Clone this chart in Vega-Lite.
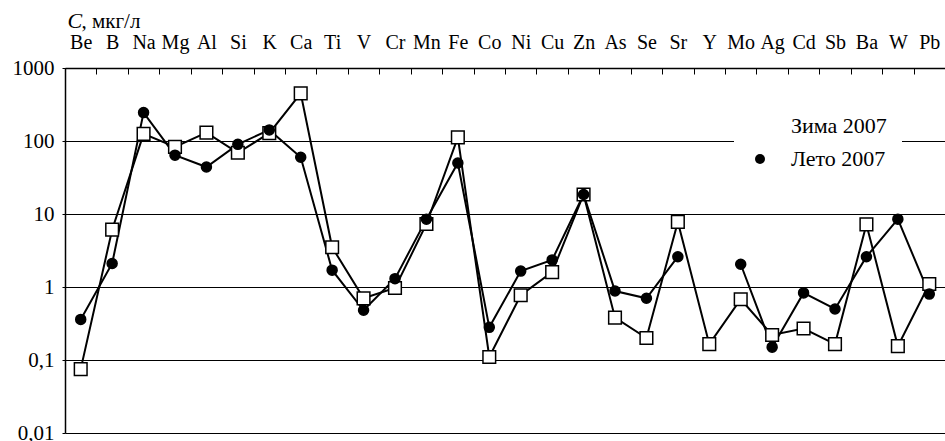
{
  "$schema": "https://vega.github.io/schema/vega-lite/v6.json",
  "width": 880,
  "height": 365,
  "autosize": {"type": "none"},
  "padding": {"left": 65, "top": 68, "right": 0, "bottom": 8},
  "background": "white",
  "config": {
    "view": {"stroke": null},
    "font": "Liberation Serif",
    "legend": {
      "orient": "none",
      "legendX": 669,
      "legendY": 32,
      "fillColor": "white",
      "padding": 15,
      "labelFont": "Liberation Serif",
      "labelFontSize": 22,
      "labelColor": "black",
      "labelOffset": 20,
      "rowPadding": 11,
      "symbolSize": 400,
      "symbolStrokeWidth": 0
    }
  },
  "data": {
    "values": [
      {"el": "Be", "s": "Зима 2007", "v": 0.075},
      {"el": "B", "s": "Зима 2007", "v": 6.1},
      {"el": "Na", "s": "Зима 2007", "v": 125},
      {"el": "Mg", "s": "Зима 2007", "v": 83},
      {"el": "Al", "s": "Зима 2007", "v": 130},
      {"el": "Si", "s": "Зима 2007", "v": 69},
      {"el": "K", "s": "Зима 2007", "v": 128},
      {"el": "Ca", "s": "Зима 2007", "v": 450},
      {"el": "Ti", "s": "Зима 2007", "v": 3.5},
      {"el": "V", "s": "Зима 2007", "v": 0.7},
      {"el": "Cr", "s": "Зима 2007", "v": 0.97},
      {"el": "Mn", "s": "Зима 2007", "v": 7.3},
      {"el": "Fe", "s": "Зима 2007", "v": 112},
      {"el": "Co", "s": "Зима 2007", "v": 0.11},
      {"el": "Ni", "s": "Зима 2007", "v": 0.77},
      {"el": "Cu", "s": "Зима 2007", "v": 1.6},
      {"el": "Zn", "s": "Зима 2007", "v": 18.5},
      {"el": "As", "s": "Зима 2007", "v": 0.38},
      {"el": "Se", "s": "Зима 2007", "v": 0.2},
      {"el": "Sr", "s": "Зима 2007", "v": 7.8},
      {"el": "Y", "s": "Зима 2007", "v": 0.165},
      {"el": "Mo", "s": "Зима 2007", "v": 0.68},
      {"el": "Ag", "s": "Зима 2007", "v": 0.22},
      {"el": "Cd", "s": "Зима 2007", "v": 0.27},
      {"el": "Sb", "s": "Зима 2007", "v": 0.165},
      {"el": "Ba", "s": "Зима 2007", "v": 7.2},
      {"el": "W", "s": "Зима 2007", "v": 0.155},
      {"el": "Pb", "s": "Зима 2007", "v": 1.1},
      {"el": "Be", "s": "Лето 2007", "v": 0.36},
      {"el": "B", "s": "Лето 2007", "v": 2.1},
      {"el": "Na", "s": "Лето 2007", "v": 245},
      {"el": "Mg", "s": "Лето 2007", "v": 64},
      {"el": "Al", "s": "Лето 2007", "v": 44},
      {"el": "Si", "s": "Лето 2007", "v": 90},
      {"el": "K", "s": "Лето 2007", "v": 142},
      {"el": "Ca", "s": "Лето 2007", "v": 60},
      {"el": "Ti", "s": "Лето 2007", "v": 1.7},
      {"el": "V", "s": "Лето 2007", "v": 0.48},
      {"el": "Cr", "s": "Лето 2007", "v": 1.3},
      {"el": "Mn", "s": "Лето 2007", "v": 8.5},
      {"el": "Fe", "s": "Лето 2007", "v": 50},
      {"el": "Co", "s": "Лето 2007", "v": 0.28},
      {"el": "Ni", "s": "Лето 2007", "v": 1.65},
      {"el": "Cu", "s": "Лето 2007", "v": 2.35},
      {"el": "Zn", "s": "Лето 2007", "v": 18.5},
      {"el": "As", "s": "Лето 2007", "v": 0.88},
      {"el": "Se", "s": "Лето 2007", "v": 0.7},
      {"el": "Sr", "s": "Лето 2007", "v": 2.6},
      {"el": "Y", "s": "Лето 2007", "v": null},
      {"el": "Mo", "s": "Лето 2007", "v": 2.05},
      {"el": "Ag", "s": "Лето 2007", "v": 0.15},
      {"el": "Cd", "s": "Лето 2007", "v": 0.83},
      {"el": "Sb", "s": "Лето 2007", "v": 0.5},
      {"el": "Ba", "s": "Лето 2007", "v": 2.6},
      {"el": "W", "s": "Лето 2007", "v": 8.5},
      {"el": "Pb", "s": "Лето 2007", "v": 0.8}
    ]
  },
  "encoding": {
    "x": {
      "field": "el",
      "type": "nominal",
      "sort": null,
      "scale": {"type": "band", "paddingInner": 0, "paddingOuter": 0},
      "axis": {
        "orient": "top",
        "title": "C",
        "titleX": 2,
        "titleY": -41,
        "titleAngle": 0,
        "titleAlign": "left",
        "titleBaseline": "alphabetic",
        "titleFont": "Liberation Serif",
        "titleFontSize": 22,
        "titleFontStyle": "italic",
        "titleFontWeight": "normal",
        "titleColor": "black",
        "labelAngle": 0,
        "labelFont": "Liberation Serif",
        "labelFontSize": 20,
        "labelColor": "black",
        "labelPadding": 22,
        "labelOverlap": false,
        "tickBand": "extent",
        "tickSize": -6,
        "tickColor": "black",
        "tickWidth": 1,
        "domainColor": "black",
        "domainWidth": 1.5,
        "grid": false
      }
    },
    "y": {
      "field": "v",
      "type": "quantitative",
      "scale": {"type": "log", "domain": [0.01, 1000], "nice": false},
      "axis": {
        "values": [0.01, 0.1, 1, 10, 100, 1000],
        "labelExpr": "replace(toString(datum.value), '.', ',')",
        "title": ", мкг/л",
        "titleX": 16,
        "titleY": -41,
        "titleAngle": 0,
        "titleAlign": "left",
        "titleBaseline": "alphabetic",
        "titleFont": "Liberation Serif",
        "titleFontSize": 21,
        "titleFontWeight": "normal",
        "titleColor": "black",
        "labelFont": "Liberation Serif",
        "labelFontSize": 21,
        "labelColor": "black",
        "labelPadding": 8,
        "grid": true,
        "gridColor": "black",
        "gridOpacity": 1,
        "gridWidth": 1,
        "tickSize": 3,
        "tickColor": "black",
        "domainColor": "black",
        "domainWidth": 1.5
      }
    }
  },
  "layer": [
    {
      "mark": {"type": "line", "color": "black", "strokeWidth": 2},
      "encoding": {"detail": {"field": "s"}}
    },
    {
      "mark": {"type": "point", "filled": true, "opacity": 1, "stroke": "black", "strokeWidth": 1.5},
      "encoding": {
        "size": {
          "field": "s",
          "type": "nominal",
          "title": null,
          "scale": {"domain": ["Зима 2007", "Лето 2007"], "range": [160, 100]},
          "legend": {
            "title": null,
            "encode": {
              "symbols": {
                "shape": {
                  "condition": {"test": "datum.value == 'Зима 2007'", "value": "M-1.85,-0.1H-0.7V0.1H-1.85ZM0.7,-0.1H1.85V0.1H0.7ZM-0.7,-0.7H0.7V0.7H-0.7ZM-0.55,-0.55V0.55H0.55V-0.55Z"},
                  "value": "M-1.85,-0.1H1.85V0.1H-1.85ZM0.55,0A0.55,0.55,0,1,1,-0.55,0A0.55,0.55,0,1,1,0.55,0Z"
                },
                "fill": {"value": "black"},
                "size": {"value": 400},
                "strokeWidth": {"value": 0},
                "opacity": {"value": 1}
              }
            }
          }
        },
        "shape": {
          "field": "s",
          "type": "nominal",
          "title": null,
          "scale": {"domain": ["Зима 2007", "Лето 2007"], "range": ["square", "circle"]},
          "legend": {
            "title": null,
            "encode": {
              "symbols": {
                "shape": {
                  "condition": {"test": "datum.value == 'Зима 2007'", "value": "M-1.85,-0.1H-0.7V0.1H-1.85ZM0.7,-0.1H1.85V0.1H0.7ZM-0.7,-0.7H0.7V0.7H-0.7ZM-0.55,-0.55V0.55H0.55V-0.55Z"},
                  "value": "M-1.85,-0.1H1.85V0.1H-1.85ZM0.55,0A0.55,0.55,0,1,1,-0.55,0A0.55,0.55,0,1,1,0.55,0Z"
                },
                "fill": {"value": "black"},
                "size": {"value": 400},
                "strokeWidth": {"value": 0},
                "opacity": {"value": 1}
              }
            }
          }
        },
        "fill": {
          "field": "s",
          "type": "nominal",
          "title": null,
          "scale": {"domain": ["Зима 2007", "Лето 2007"], "range": ["white", "black"]},
          "legend": {
            "title": null,
            "encode": {
              "symbols": {
                "shape": {
                  "condition": {"test": "datum.value == 'Зима 2007'", "value": "M-1.85,-0.1H-0.7V0.1H-1.85ZM0.7,-0.1H1.85V0.1H0.7ZM-0.7,-0.7H0.7V0.7H-0.7ZM-0.55,-0.55V0.55H0.55V-0.55Z"},
                  "value": "M-1.85,-0.1H1.85V0.1H-1.85ZM0.55,0A0.55,0.55,0,1,1,-0.55,0A0.55,0.55,0,1,1,0.55,0Z"
                },
                "fill": {"value": "black"},
                "size": {"value": 400},
                "strokeWidth": {"value": 0},
                "opacity": {"value": 1}
              }
            }
          }
        }
      }
    }
  ]
}
